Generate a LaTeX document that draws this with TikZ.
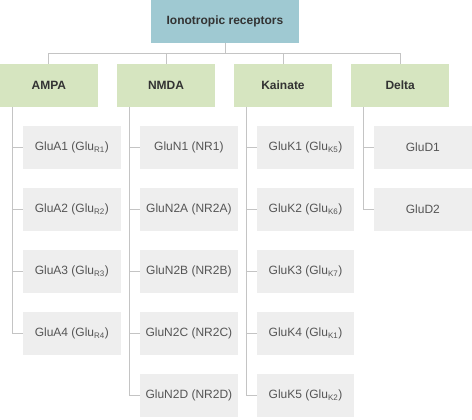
\documentclass[tikz,border=0pt]{standalone}
\usepackage{fontspec}
\setmainfont{Liberation Sans}
\definecolor{rootc}{HTML}{9FC9D2}
\definecolor{catc}{HTML}{D6E5C0}
\definecolor{kidc}{HTML}{EEEEEE}
\definecolor{linec}{HTML}{C4C4C4}
\definecolor{headtxt}{HTML}{333333}
\definecolor{kidtxt}{HTML}{555555}
\begin{document}
\begin{tikzpicture}[x=1pt,y=-1pt,
  rootbox/.style={fill=rootc,draw=none,minimum width=148pt,minimum height=42.7pt,inner sep=0pt,
    font=\fontsize{12}{14}\selectfont\bfseries,text=headtxt},
  catbox/.style={fill=catc,draw=none,minimum width=97.7pt,minimum height=42.7pt,inner sep=0pt,
    font=\fontsize{12}{14}\selectfont\bfseries,text=headtxt},
  kidbox/.style={fill=kidc,draw=none,minimum width=97.7pt,minimum height=42.7pt,inner sep=0pt,
    font=\fontsize{12}{14}\selectfont,text=kidtxt},
  link/.style={draw=linec,line width=0.9pt}]
\useasboundingbox (0,0) rectangle (472,420);
\node[rootbox] (root) at (225,21.35) {Ionotropic receptors};
\node[catbox] (ampa) at (48.85,85.35) {AMPA};
\node[catbox] (nmda) at (166,85.35) {NMDA};
\node[catbox] (kain) at (283,85.35) {Kainate};
\node[catbox] (delta) at (400.2,85.35) {Delta};
% children
\node[kidbox] (a1) at (71.85,147.3) {GluA1 (Glu\textsubscript{R1})};
\node[kidbox] (a2) at (71.85,209.3) {GluA2 (Glu\textsubscript{R2})};
\node[kidbox] (a3) at (71.85,271.3) {GluA3 (Glu\textsubscript{R3})};
\node[kidbox] (a4) at (71.85,333.3) {GluA4 (Glu\textsubscript{R4})};
\node[kidbox] (n1) at (188.85,147.3) {GluN1 (NR1)};
\node[kidbox] (n2) at (188.85,209.3) {GluN2A (NR2A)};
\node[kidbox] (n3) at (188.85,271.3) {GluN2B (NR2B)};
\node[kidbox] (n4) at (188.85,333.3) {GluN2C (NR2C)};
\node[kidbox] (n5) at (188.85,395.3) {GluN2D (NR2D)};
\node[kidbox] (k1) at (305.55,147.3) {GluK1 (Glu\textsubscript{K5})};
\node[kidbox] (k2) at (305.55,209.3) {GluK2 (Glu\textsubscript{K6})};
\node[kidbox] (k3) at (305.55,271.3) {GluK3 (Glu\textsubscript{K7})};
\node[kidbox] (k4) at (305.55,333.3) {GluK4 (Glu\textsubscript{K1})};
\node[kidbox] (k5) at (305.55,395.3) {GluK5 (Glu\textsubscript{K2})};
\node[kidbox] (d1) at (422.85,147.3) {GluD1};
\node[kidbox] (d2) at (422.85,209.3) {GluD2};
% bus
\draw[link] (root.south) -- ++(0,10.6) coordinate (bus);
\draw[link] (ampa.north) |- (bus) -| (delta.north);
\draw[link] (nmda.north) -- (nmda.north |- bus);
\draw[link] (kain.north) -- (kain.north |- bus);
% group trunks
\draw[link] ([xshift=12.3pt]ampa.south west) |- (a4.west);
\draw[link] ([xshift=12.3pt]nmda.south west) |- (n5.west);
\draw[link] ([xshift=12.3pt]kain.south west) |- (k5.west);
\draw[link] ([xshift=12.3pt]delta.south west) |- (d2.west);
\foreach \k in {a1,a2,a3,n1,n2,n3,n4,k1,k2,k3,k4,d1}
  \draw[link] ([xshift=-10.7pt]\k.west) -- (\k.west);
\end{tikzpicture}
\end{document}
